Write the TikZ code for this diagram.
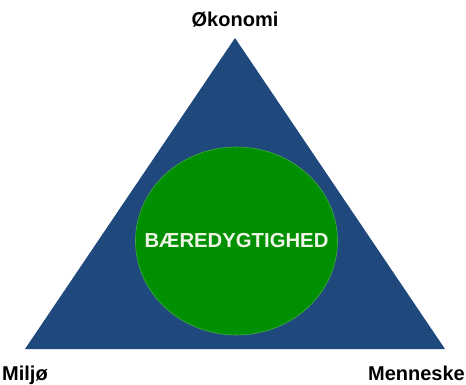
\documentclass[tikz,border=0pt]{standalone}
\usepackage{fontspec}
\setmainfont{Liberation Sans}
\definecolor{triblue}{HTML}{1F497D}
\definecolor{coregreen}{HTML}{008F00}
\definecolor{coretext}{HTML}{EEF5E6}

\begin{document}
\begin{tikzpicture}[x=1pt,y=1pt,
		corner/.style={font=\bfseries\fontsize{20}{24}\selectfont,text=black,inner sep=0pt},
		core/.style={inner sep=0pt,text=coretext,font=\bfseries\fontsize{20.3}{24}\selectfont}]
		\useasboundingbox (0,0) rectangle (466,384);
		
		\coordinate (top)   at (235,346);
		\coordinate (left)  at (25,35);
		\coordinate (right) at (445,35);
		\coordinate (mid)   at (236.5,143);
		
		\fill[triblue] (left) -- (top) -- (right) -- cycle;
		\draw[fill=coregreen,draw=coregreen!75!white,line width=0.6pt] (mid) ellipse (101 and 94);
		
		\node[core]                    (core)     at (mid)     {BÆREDYGTIGHED};
		\node[corner,anchor=base]      (okonomi)  at (235,357) {Økonomi};
		\node[corner,anchor=base west] (miljo)    at (2,4)     {Miljø};
		\node[corner,anchor=base east] (menneske) at (465,4)   {Menneske};
		\end{tikzpicture}
\end{document}
